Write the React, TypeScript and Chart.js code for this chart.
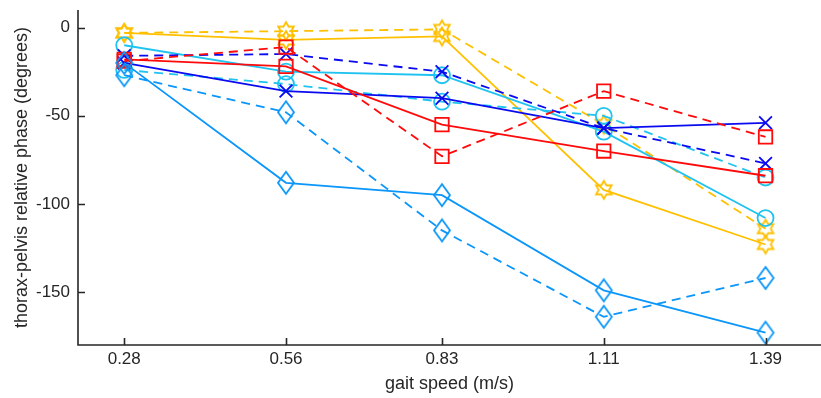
import React, { useEffect, useRef } from 'react';
import { Chart, registerables } from 'chart.js';
Chart.register(...registerables);

// gait speed categories (m/s)
const speeds = [0.28, 0.56, 0.83, 1.11, 1.39];
const xTickLabels = ['0.28', '0.56', '0.83', '1.11', '1.39'];
const yTicks = [0, -50, -100, -150];

// series values (degrees)
const yellowSolid = [-3, -7, -5, -92, -123];
const yellowDashed = [-3, -2, -1, -55, -114];
const cyanSolid = [-10, -25, -27, -59, -108];
const cyanDashed = [-24, -32, -42, -50, -85];
const blueSolid = [-20, -36, -40, -57, -54];
const blueDashed = [-16, -15, -25, -57, -77];
const redSolid = [-18, -22, -55, -70, -84];
const redDashed = [-19, -11, -73, -36, -62];
const skySolid = [-20, -88, -95, -149, -173];
const skyDashed = [-27, -48, -115, -164, -142];

const YELLOW = '#FFC000';
const CYAN = '#1FC3F0';
const SKY = '#0A96FA';
const BLUE = '#0A0AF0';
const RED = '#FF0A0A';
const AXIS = '#262626';
const FONT = "'Liberation Sans', Arial, Helvetica, sans-serif";

function makeHexagram(color: string, r: number, lw: number) {
  const c = document.createElement('canvas');
  const s = Math.ceil(2 * r + lw * 2 + 2);
  c.width = s;
  c.height = s;
  const ctx = c.getContext('2d')!;
  ctx.translate(s / 2, s / 2);
  ctx.beginPath();
  for (let i = 0; i < 12; i++) {
    const ang = -Math.PI / 2 + (i * Math.PI) / 6;
    const rad = i % 2 === 0 ? r : r / Math.sqrt(3);
    const px = Math.cos(ang) * rad;
    const py = Math.sin(ang) * rad;
    if (i === 0) ctx.moveTo(px, py);
    else ctx.lineTo(px, py);
  }
  ctx.closePath();
  ctx.strokeStyle = color;
  ctx.lineWidth = lw;
  ctx.stroke();
  return c;
}

function makeDiamond(color: string, hw: number, hh: number, lw: number) {
  const c = document.createElement('canvas');
  const w = Math.ceil(2 * hw + lw * 2 + 2);
  const h = Math.ceil(2 * hh + lw * 2 + 2);
  c.width = w;
  c.height = h;
  const ctx = c.getContext('2d')!;
  ctx.translate(w / 2, h / 2);
  ctx.beginPath();
  ctx.moveTo(0, -hh);
  ctx.lineTo(hw, 0);
  ctx.lineTo(0, hh);
  ctx.lineTo(-hw, 0);
  ctx.closePath();
  ctx.strokeStyle = color;
  ctx.lineWidth = lw;
  ctx.stroke();
  return c;
}

const axesPlugin = {
  id: 'matlabAxes',
  afterDraw(chart: any) {
    const { ctx, chartArea, scales } = chart;
    const { left, right, top, bottom } = chartArea;
    ctx.save();
    ctx.strokeStyle = AXIS;
    ctx.lineWidth = 1.6;
    ctx.beginPath();
    ctx.moveTo(left, top);
    ctx.lineTo(left, bottom);
    ctx.lineTo(right, bottom);
    ctx.stroke();
    ctx.beginPath();
    speeds.forEach((v) => {
      const px = Math.round(scales.x.getPixelForValue(v)) + 0.5;
      ctx.moveTo(px, bottom);
      ctx.lineTo(px, bottom - 7);
    });
    yTicks.forEach((v) => {
      const py = Math.round(scales.y.getPixelForValue(v)) + 0.5;
      ctx.moveTo(left, py);
      ctx.lineTo(left + 7, py);
    });
    ctx.stroke();
    ctx.restore();
  },
};

export default function App() {
  const ref = useRef<HTMLCanvasElement>(null);
  useEffect(() => {
    document.body.style.margin = '0';
    const lw = 1.8;
    const mk = (
      label: string,
      arr: number[],
      color: string,
      dashed: boolean,
      pointStyle: any,
      radius: number
    ) => ({
      label,
      data: speeds.map((x, i) => ({ x, y: arr[i] })),
      borderColor: color,
      backgroundColor: 'transparent',
      borderWidth: lw,
      borderDash: dashed ? [9, 6] : [],
      pointStyle,
      pointRadius: radius,
      pointBorderColor: color,
      pointBackgroundColor: 'transparent',
      pointBorderWidth: lw,
      fill: false,
      tension: 0,
    });
    const hexY = makeHexagram(YELLOW, 9, lw);
    const diaS = makeDiamond(SKY, 8, 11, lw);
    const datasets = [
      mk('sky dashed', skyDashed, SKY, true, diaS, 8),
      mk('sky solid', skySolid, SKY, false, diaS, 8),
      mk('red dashed', redDashed, RED, true, 'rect', 9.5),
      mk('red solid', redSolid, RED, false, 'rect', 9.5),
      mk('blue dashed', blueDashed, BLUE, true, 'crossRot', 9),
      mk('blue solid', blueSolid, BLUE, false, 'crossRot', 9),
      mk('cyan dashed', cyanDashed, CYAN, true, 'circle', 8),
      mk('cyan solid', cyanSolid, CYAN, false, 'circle', 8),
      mk('yellow dashed', yellowDashed, YELLOW, true, hexY, 8),
      mk('yellow solid', yellowSolid, YELLOW, false, hexY, 8),
    ];
    const tickFont = { family: FONT, size: 17 };
    const titleFont = { family: FONT, size: 18 };
    const chart = new Chart(ref.current!, {
      type: 'line',
      data: { datasets },
      options: {
        responsive: false,
        animation: false,
        layout: { autoPadding: false, padding: { top: 10, right: 0, left: 0, bottom: 0 } },
        plugins: { legend: { display: false }, tooltip: { enabled: false } },
        scales: {
          x: {
            type: 'linear',
            min: 0.2,
            max: 1.486,
            afterBuildTicks: (s: any) => {
              s.ticks = speeds.map((v) => ({ value: v }));
            },
            ticks: {
              callback: (v: any) => {
                const i = speeds.indexOf(Number(v));
                return i >= 0 ? xTickLabels[i] : '';
              },
              font: tickFont,
              color: AXIS,
              padding: 4,
              maxRotation: 0,
              autoSkip: false,
            },
            grid: { display: false, drawTicks: false },
            border: { display: false },
            title: {
              display: true,
              text: 'gait speed (m/s)',
              font: titleFont,
              color: AXIS,
              padding: { top: 0, bottom: 3 },
            },
            afterFit: (s: any) => {
              s.height = 53;
              s.paddingLeft = 0;
              s.paddingRight = 0;
            },
          },
          y: {
            type: 'linear',
            min: -180,
            max: 10,
            afterBuildTicks: (s: any) => {
              s.ticks = yTicks.map((v) => ({ value: v }));
            },
            ticks: { font: tickFont, color: AXIS, padding: 8 },
            grid: { display: false, drawTicks: false },
            border: { display: false },
            title: {
              display: true,
              text: 'thorax-pelvis relative phase (degrees)',
              font: titleFont,
              color: AXIS,
              padding: { top: 11, bottom: 0 },
            },
            afterFit: (s: any) => {
              s.width = 78;
              s.paddingTop = 0;
              s.paddingBottom = 0;
            },
          },
        },
      },
      plugins: [axesPlugin],
    });
    return () => chart.destroy();
  }, []);
  return (
    <div style={{ position: 'fixed', left: 0, top: 0, width: 821, height: 398, background: '#fff' }}>
      <canvas ref={ref} width={821} height={398} style={{ width: 821, height: 398 }} />
    </div>
  );
}
